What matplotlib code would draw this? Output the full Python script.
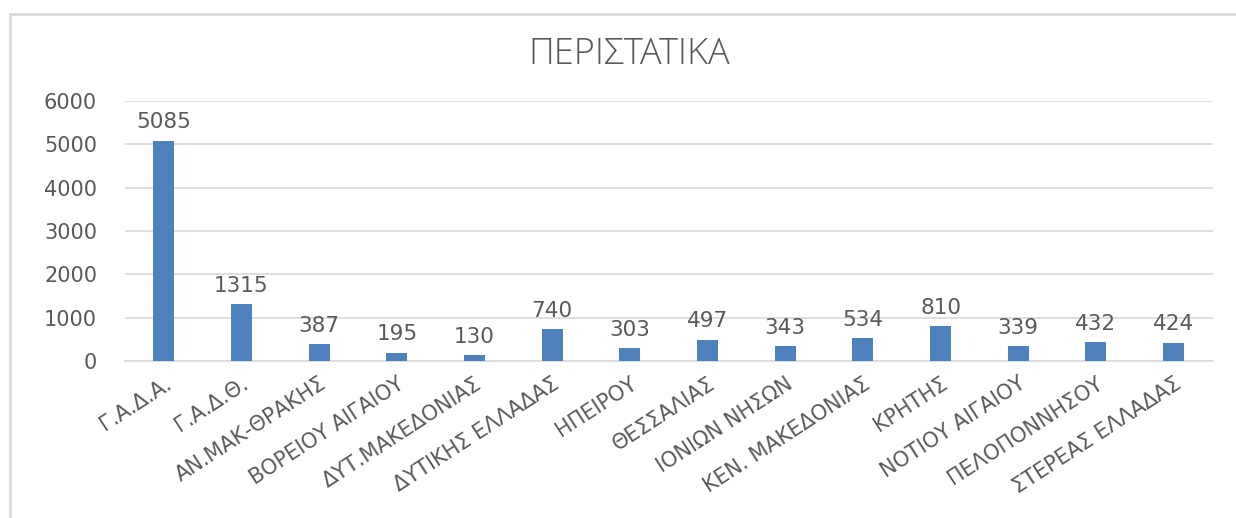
import matplotlib.pyplot as plt
from matplotlib.patches import Rectangle

# δεδομένα
regions = ['Γ.Α.Δ.Α.', 'Γ.Α.Δ.Θ.', 'ΑΝ.ΜΑΚ-ΘΡΑΚΗΣ', 'ΒΟΡΕΙΟΥ ΑΙΓΑΙΟΥ', 'ΔΥΤ.ΜΑΚΕΔΟΝΙΑΣ',
           'ΔΥΤΙΚΗΣ ΕΛΛΑΔΑΣ', 'ΗΠΕΙΡΟΥ', 'ΘΕΣΣΑΛΙΑΣ', 'ΙΟΝΙΩΝ ΝΗΣΩΝ', 'ΚΕΝ. ΜΑΚΕΔΟΝΙΑΣ',
           'ΚΡΗΤΗΣ', 'ΝΟΤΙΟΥ ΑΙΓΑΙΟΥ', 'ΠΕΛΟΠΟΝΝΗΣΟΥ', 'ΣΤΕΡΕΑΣ ΕΛΛΑΔΑΣ']
cases = [5085, 1315, 387, 195, 130, 740, 303, 497, 343, 534, 810, 339, 432, 424]
yticks = [0, 1000, 2000, 3000, 4000, 5000, 6000]

txt = '#595959'
plt.rcParams['font.family'] = ['DejaVu Sans']

fig = plt.figure(figsize=(12.36, 5.18), dpi=100)
ax = fig.add_axes([0.101, 0.303, 0.880, 0.502])

x = range(len(regions))
ax.bar(x, cases, width=0.27, color='#4f81bd', zorder=3)
for xi, v in zip(x, cases):
    ax.annotate(str(v), (xi, v), xytext=(0, 6), textcoords='offset points',
                ha='center', va='bottom', fontsize=15.5, color=txt)

ax.set_xlim(-0.5, len(regions) - 0.5)
ax.set_ylim(0, 6000)
ax.set_yticks(yticks)
ax.yaxis.grid(True, color='#d9d9d9', linewidth=1.2, zorder=0)
ax.set_xticks(list(x))
ax.set_xticklabels(regions, rotation=33, ha='right', rotation_mode='anchor',
                   fontsize=15, color=txt)
ax.tick_params(axis='y', labelsize=15, labelcolor=txt, length=0, pad=20)
ax.tick_params(axis='x', length=0, pad=9)
for s in ['top', 'right', 'left']:
    ax.spines[s].set_visible(False)
ax.spines['bottom'].set_color('#d9d9d9')
ax.spines['bottom'].set_linewidth(1.2)

fig.text(0.509, 0.894, 'ΠΕΡΙΣΤΑΤΙΚΑ', ha='center', va='center', fontsize=26,
         color=txt, family=['Open Sans', 'DejaVu Sans'], fontweight='light')

# πλαίσιο
fig.patches.append(Rectangle((10 / 1236, -0.1), 1.2, (518 - 14) / 518 + 0.1,
                             transform=fig.transFigure, fill=False,
                             edgecolor='#d9d9d9', linewidth=2))

fig.savefig('out.png', dpi=100)
